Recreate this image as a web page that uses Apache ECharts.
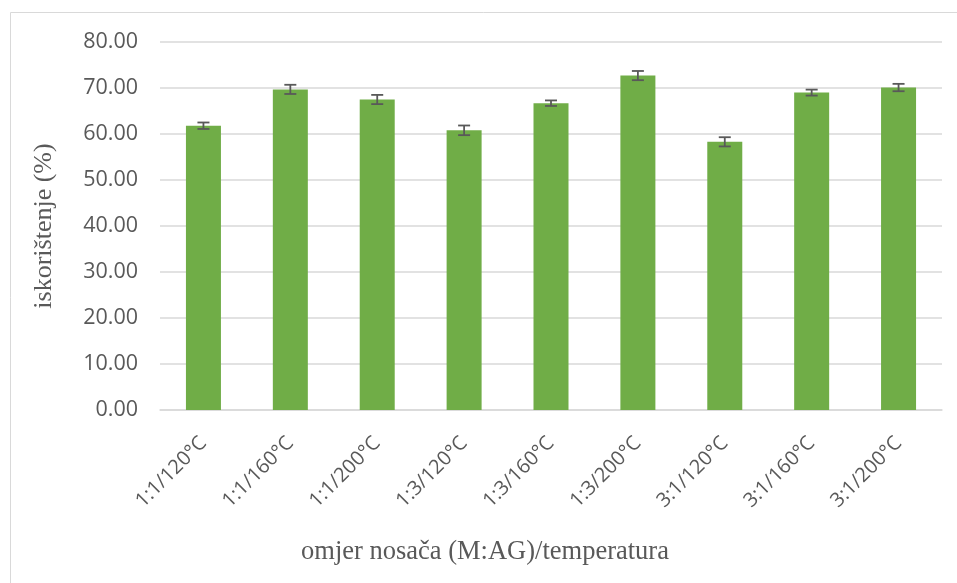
<!DOCTYPE html>
<html><head><meta charset="utf-8">
<script src="https://cdn.jsdelivr.net/npm/echarts@6/dist/echarts.min.js"></script>
<style>html,body{margin:0;padding:0;background:#fff}#c{width:957px;height:583px}</style>
</head><body><div id="c"></div>
<script>
const categories = ['1:1/120°C','1:1/160°C','1:1/200°C','1:3/120°C','1:3/160°C','1:3/200°C','3:1/120°C','3:1/160°C','3:1/200°C'];
const values = [61.8, 69.7, 67.5, 60.8, 66.7, 72.7, 58.3, 69.0, 70.1];
const errors = [0.7, 1.0, 1.0, 1.05, 0.6, 1.0, 1.0, 0.65, 0.8];
const yTicks = [0, 10, 20, 30, 40, 50, 60, 70, 80];
const yAxisTitle = 'iskorištenje (%)';
const xAxisTitle = 'omjer nosača (M:AG)/temperatura';

const chart = echarts.init(document.getElementById('c'));
const errData = values.map((v, i) => [i, v - errors[i], v + errors[i]]);
chart.setOption({
  animation: false,
  grid: {left: 160, right: 15, top: 42, bottom: 173},
  graphic: [
    {type: 'line', shape: {x1: 10.5, y1: 12.5, x2: 957, y2: 12.5}, style: {stroke: '#d9d9d9', lineWidth: 1}},
    {type: 'line', shape: {x1: 10.5, y1: 12.5, x2: 10.5, y2: 583}, style: {stroke: '#d9d9d9', lineWidth: 1}},
    {type: 'text', style: {text: yAxisTitle, font: '26px "Liberation Serif"', fill: '#595959', textAlign: 'center', textVerticalAlign: 'middle'}, x: 44, y: 226, rotation: Math.PI / 2},
    {type: 'text', style: {text: xAxisTitle, font: '26.5px "Liberation Serif"', fill: '#595959', textAlign: 'center', textVerticalAlign: 'middle'}, x: 485, y: 552}
  ],
  xAxis: {
    type: 'category', data: categories,
    axisLine: {lineStyle: {color: '#d9d9d9', width: 1.5}},
    axisTick: {show: false},
    axisLabel: {rotate: 45, color: '#595959', fontSize: 20, fontFamily: 'Open Sans', margin: 30}
  },
  yAxis: {
    type: 'value', min: 0, max: 80, interval: 10,
    axisLine: {show: false}, axisTick: {show: false},
    splitLine: {lineStyle: {color: '#d9d9d9', width: 1.5}},
    axisLabel: {color: '#595959', fontSize: 21.5, fontFamily: 'Open Sans', margin: 22,
      formatter: v => yTicks.includes(v) ? v.toFixed(2) : ''}
  },
  series: [
    {type: 'bar', data: values, barWidth: 35, itemStyle: {color: '#70AD47'}},
    {type: 'custom', data: errData, z: 10,
      renderItem: function (params, api) {
        const x = api.coord([api.value(0), 0])[0];
        const lo = api.coord([api.value(0), api.value(1)])[1];
        const hi = api.coord([api.value(0), api.value(2)])[1];
        const w = 6;
        const st = {stroke: '#595959', lineWidth: 1.8};
        return {type: 'group', children: [
          {type: 'line', shape: {x1: x, y1: lo, x2: x, y2: hi}, style: st},
          {type: 'line', shape: {x1: x - w, y1: lo, x2: x + w, y2: lo}, style: st},
          {type: 'line', shape: {x1: x - w, y1: hi, x2: x + w, y2: hi}, style: st}
        ]};
      }
    }
  ]
});
</script></body></html>
